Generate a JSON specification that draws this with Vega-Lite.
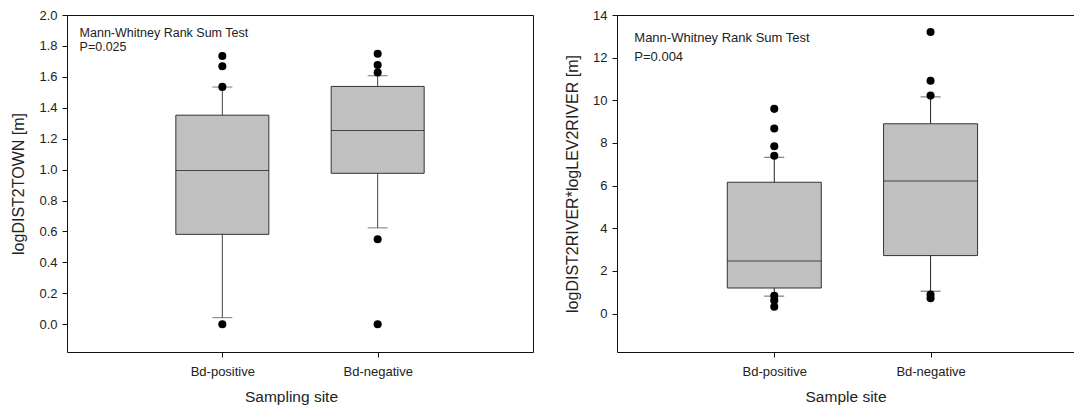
{
  "$schema": "https://vega.github.io/schema/vega-lite/v6.json",
  "padding": {"left": 10, "top": 8, "right": 0, "bottom": 0},
  "config": {
    "font": "Liberation Sans",
    "axis": {
      "domainColor": "#111", "tickColor": "#111", "tickSize": 5, "grid": false, "labelOverlap": false,
      "labelFont": "Liberation Sans", "labelFontSize": 13, "labelColor": "#222",
      "titleFont": "Liberation Sans", "titleFontWeight": "normal", "titleColor": "#222"
    },
    "title": {"font": "Liberation Sans", "fontWeight": "normal", "color": "#222", "subtitleColor": "#222", "subtitleFont": "Liberation Sans"}
  },
  "datasets": {
    "townBox": [
      {"site": "Bd-positive", "lower": 0.042, "q1": 0.581, "median": 0.994, "q3": 1.352, "upper": 1.534},
      {"site": "Bd-negative", "lower": 0.623, "q1": 0.976, "median": 1.253, "q3": 1.538, "upper": 1.607}
    ],
    "townOut": [
      {"site": "Bd-positive", "value": 1.735},
      {"site": "Bd-positive", "value": 1.669},
      {"site": "Bd-positive", "value": 1.535},
      {"site": "Bd-positive", "value": 0.0},
      {"site": "Bd-negative", "value": 1.749},
      {"site": "Bd-negative", "value": 1.677},
      {"site": "Bd-negative", "value": 1.628},
      {"site": "Bd-negative", "value": 0.549},
      {"site": "Bd-negative", "value": 0.0}
    ],
    "riverBox": [
      {"site": "Bd-positive", "lower": 0.82, "q1": 1.2, "median": 2.47, "q3": 6.16, "upper": 7.33},
      {"site": "Bd-negative", "lower": 1.05, "q1": 2.72, "median": 6.22, "q3": 8.9, "upper": 10.16}
    ],
    "riverOut": [
      {"site": "Bd-positive", "value": 9.6},
      {"site": "Bd-positive", "value": 8.68},
      {"site": "Bd-positive", "value": 7.85},
      {"site": "Bd-positive", "value": 7.4},
      {"site": "Bd-positive", "value": 0.84},
      {"site": "Bd-positive", "value": 0.62},
      {"site": "Bd-positive", "value": 0.32},
      {"site": "Bd-negative", "value": 13.2},
      {"site": "Bd-negative", "value": 10.92},
      {"site": "Bd-negative", "value": 10.22},
      {"site": "Bd-negative", "value": 0.9},
      {"site": "Bd-negative", "value": 0.72}
    ]
  },
  "bounds": "flush",
  "spacing": 84,
  "hconcat": [
    {
      "width": 466,
      "height": 337,
      "view": {"stroke": "#111", "strokeWidth": 1},
      "title": {
        "text": "Mann-Whitney Rank Sum Test", "subtitle": "P=0.025",
        "anchor": "start", "frame": "group", "orient": "top",
        "fontSize": 12.5, "subtitleFontSize": 12.5, "subtitlePadding": 1,
        "dx": 12.6, "dy": 48
      },
      "layer": [
        {
          "data": {"name": "townBox"},
          "mark": {"type": "rule", "color": "#444", "strokeWidth": 1},
          "encoding": {
            "x": {"field": "site", "type": "nominal", "sort": ["Bd-positive", "Bd-negative"],
                  "scale": {"type": "point", "padding": 1, "domain": ["Bd-positive", "Bd-negative"]},
                  "axis": {"title": "Sampling site", "titleFontSize": 15.5, "labelAngle": 0, "labelPadding": 8, "titlePadding": 11, "domain": false, "titleX": 224}},
            "y": {"field": "lower", "type": "quantitative",
                  "scale": {"domain": [-0.18, 2.0], "nice": false, "zero": false},
                  "axis": {"title": "logDIST2TOWN [m]", "titleFontSize": 16, "values": [0, 0.2, 0.4, 0.6, 0.8, 1.0, 1.2, 1.4, 1.6, 1.8, 2.0], "tickCount": 12, "format": ".1f", "labelOverlap": false, "labelPadding": 5, "titlePadding": 12, "domain": false}},
            "y2": {"field": "upper"}
          }
        },
        {
          "data": {"name": "townBox"},
          "mark": {"type": "bar", "size": 93, "fill": "#c0c0c0", "stroke": "#333", "strokeWidth": 1},
          "encoding": {
            "x": {"field": "site", "type": "nominal", "sort": ["Bd-positive", "Bd-negative"]},
            "y": {"field": "q1", "type": "quantitative"},
            "y2": {"field": "q3"}
          }
        },
        {
          "data": {"name": "townBox"},
          "mark": {"type": "tick", "size": 93, "thickness": 1, "color": "#111"},
          "encoding": {
            "x": {"field": "site", "type": "nominal", "sort": ["Bd-positive", "Bd-negative"]},
            "y": {"field": "median", "type": "quantitative"}
          }
        },
        {
          "data": {"name": "townBox"},
          "mark": {"type": "tick", "size": 20, "thickness": 1, "color": "#444"},
          "encoding": {
            "x": {"field": "site", "type": "nominal", "sort": ["Bd-positive", "Bd-negative"]},
            "y": {"field": "lower", "type": "quantitative"}
          }
        },
        {
          "data": {"name": "townBox"},
          "mark": {"type": "tick", "size": 20, "thickness": 1, "color": "#444"},
          "encoding": {
            "x": {"field": "site", "type": "nominal", "sort": ["Bd-positive", "Bd-negative"]},
            "y": {"field": "upper", "type": "quantitative"}
          }
        },
        {
          "data": {"name": "townOut"},
          "mark": {"type": "circle", "size": 65, "color": "#000", "opacity": 1},
          "encoding": {
            "x": {"field": "site", "type": "nominal", "sort": ["Bd-positive", "Bd-negative"]},
            "y": {"field": "value", "type": "quantitative"}
          }
        }
      ]
    },
    {
      "width": 457,
      "height": 337,
      "view": {"stroke": null},
      "title": {
        "text": "Mann-Whitney Rank Sum Test", "subtitle": "\u00a0P=0.004",
        "anchor": "start", "frame": "group", "orient": "top",
        "fontSize": 13, "subtitleFontSize": 13, "subtitlePadding": 6,
        "dx": 17.3, "dy": 59
      },
      "resolve": {"axis": {"x": "independent"}},
      "layer": [
        {
          "data": {"name": "riverBox"},
          "mark": {"type": "rule", "color": "#222", "strokeWidth": 1},
          "encoding": {
            "x": {"field": "site", "type": "nominal", "sort": ["Bd-positive", "Bd-negative"],
                  "scale": {"type": "point", "padding": 0.962, "align": 0.523, "domain": ["Bd-positive", "Bd-negative"]},
                  "axis": {"title": "Sample site", "titleFontSize": 15.5, "labelAngle": 0, "labelPadding": 8, "titlePadding": 11}},
            "y": {"field": "lower", "type": "quantitative",
                  "scale": {"domain": [-1.8, 14], "nice": false, "zero": false},
                  "axis": {"title": "logDIST2RIVER*logLEV2RIVER [m]", "titleFontSize": 16, "values": [0, 2, 4, 6, 8, 10, 12, 14], "tickCount": 10, "labelOverlap": false, "labelPadding": 5, "titlePadding": 12}},
            "y2": {"field": "upper"}
          }
        },
        {
          "data": {"name": "riverBox"},
          "mark": {"type": "bar", "size": 94, "fill": "#c0c0c0", "stroke": "#333", "strokeWidth": 1},
          "encoding": {
            "x": {"field": "site", "type": "nominal", "sort": ["Bd-positive", "Bd-negative"],
                  "axis": {"orient": "top", "labels": false, "ticks": false, "title": null}},
            "y": {"field": "q1", "type": "quantitative"},
            "y2": {"field": "q3"}
          }
        },
        {
          "data": {"name": "riverBox"},
          "mark": {"type": "tick", "size": 94, "thickness": 1, "color": "#111"},
          "encoding": {
            "x": {"field": "site", "type": "nominal", "sort": ["Bd-positive", "Bd-negative"], "axis": null},
            "y": {"field": "median", "type": "quantitative"}
          }
        },
        {
          "data": {"name": "riverBox"},
          "mark": {"type": "tick", "size": 20, "thickness": 1, "color": "#222"},
          "encoding": {
            "x": {"field": "site", "type": "nominal", "sort": ["Bd-positive", "Bd-negative"], "axis": null},
            "y": {"field": "lower", "type": "quantitative"}
          }
        },
        {
          "data": {"name": "riverBox"},
          "mark": {"type": "tick", "size": 20, "thickness": 1, "color": "#222"},
          "encoding": {
            "x": {"field": "site", "type": "nominal", "sort": ["Bd-positive", "Bd-negative"], "axis": null},
            "y": {"field": "upper", "type": "quantitative"}
          }
        },
        {
          "data": {"name": "riverOut"},
          "mark": {"type": "circle", "size": 65, "color": "#000", "opacity": 1},
          "encoding": {
            "x": {"field": "site", "type": "nominal", "sort": ["Bd-positive", "Bd-negative"], "axis": null},
            "y": {"field": "value", "type": "quantitative"}
          }
        }
      ]
    }
  ]
}
